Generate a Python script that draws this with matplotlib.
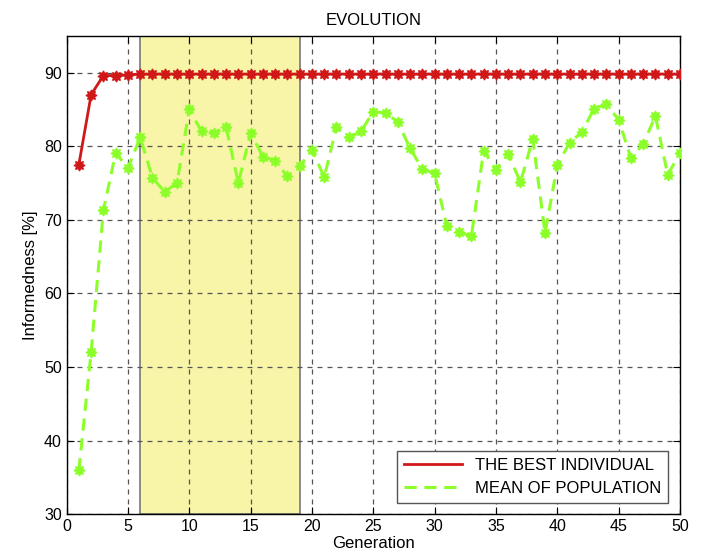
import matplotlib.pyplot as plt
from matplotlib.lines import Line2D
import numpy as np

plt.rcParams['font.family'] = ['Liberation Sans', 'DejaVu Sans']

generation = np.arange(1, 51)
best = [77.5, 87.0, 89.6, 89.6, 89.7] + [89.8] * 45
mean_pop = [36.0, 52.0, 71.3, 79.1, 77.0, 81.2, 75.7, 73.8, 75.0, 85.0,
            82.0, 81.8, 82.6, 75.0, 81.8, 78.6, 78.0, 75.9, 77.3, 79.5,
            75.8, 82.6, 81.2, 82.0, 84.7, 84.5, 83.3, 79.7, 76.9, 76.3,
            69.1, 68.3, 67.8, 79.4, 76.8, 78.9, 75.1, 81.0, 68.2, 77.4,
            80.5, 81.9, 85.1, 85.7, 83.6, 78.4, 80.3, 84.1, 76.1, 79.1]
span = (6, 19)

red = '#d01818'
green = '#8cff2a'

fig = plt.figure(figsize=(7.01, 5.59), dpi=100)
ax = fig.add_axes([0.095, 0.080, 0.875, 0.856])

ax.axvspan(span[0], span[1], facecolor='#f8f5a8', edgecolor='#777777',
           linewidth=1.2, zorder=0)

star = (8, 1, 0)
ax.plot(generation, best, color=red, linewidth=2, marker=star,
        markersize=8, zorder=3)
ax.plot(generation, best, linestyle='none', marker='o', color=red,
        markersize=5, zorder=3)
ax.plot(generation, mean_pop, color=green, linewidth=2.2, linestyle=(0, (4, 2.5)),
        marker=star, markersize=8, zorder=3)
ax.plot(generation, mean_pop, linestyle='none', marker='o', color=green,
        markersize=5, zorder=3)

ax.set_xlim(0, 50)
ax.set_ylim(30, 95)
ax.set_xticks(np.arange(0, 51, 5))
ax.set_yticks(np.arange(30, 91, 10))
ax.grid(True, color='#555555', linestyle=(0, (4, 4)), linewidth=0.9)
ax.set_axisbelow(True)
ax.tick_params(direction='in', top=True, right=True, labelsize=11.5, length=5)
for s in ax.spines.values():
    s.set_linewidth(1.0)

ax.set_title('EVOLUTION', fontsize=12, pad=8)
ax.set_xlabel('Generation', fontsize=12, labelpad=1)
ax.set_ylabel('Informedness [%]', fontsize=12)

handles = [Line2D([], [], color=red, linewidth=2),
           Line2D([], [], color=green, linewidth=2.2, linestyle=(0, (4, 2.5)))]
leg = ax.legend(handles, ['THE BEST INDIVIDUAL', 'MEAN OF POPULATION'],
                loc='lower right', fontsize=12, fancybox=False, framealpha=1,
                edgecolor='#555555', handlelength=3.5, borderaxespad=0.7)
leg.get_frame().set_linewidth(1.0)

fig.savefig('out.png', dpi=100)
